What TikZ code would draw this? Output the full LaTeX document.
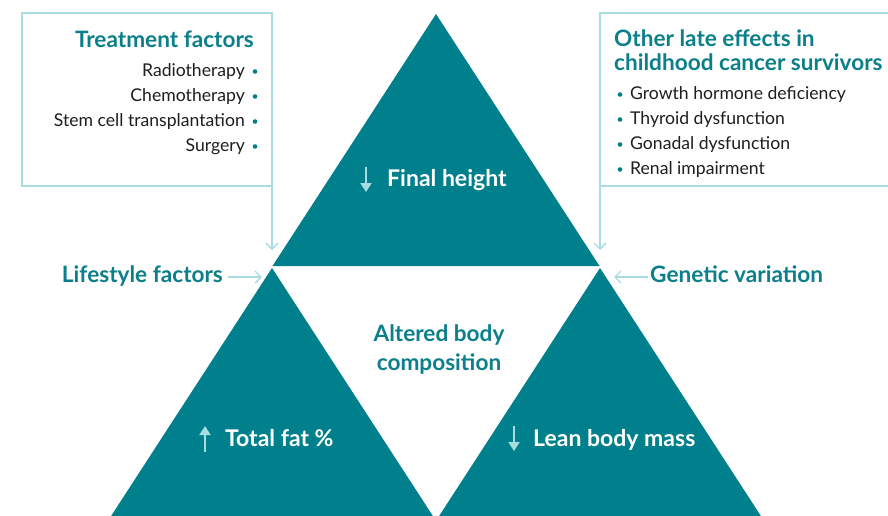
\documentclass[tikz,border=0pt]{standalone}
\usepackage{fontspec}
\setmainfont{Lato}
\usetikzlibrary{arrows.meta}
\definecolor{teal}{HTML}{00808C}
\definecolor{tealtext}{HTML}{0B7F8A}
\definecolor{paleline}{HTML}{A8DCE0}
\definecolor{bodytext}{HTML}{1E1E1E}
\tikzset{
  tri/.style={fill=teal, draw=none},
  framebox/.style={draw=paleline, line width=1.6pt},
  feed/.style={draw=paleline, line width=1.6pt, -{Straight Barb[length=6pt, width=12pt, line width=1.3pt]}},
  trend/.style={draw=paleline, line width=2pt, -{Triangle[length=9pt, width=11pt]}},
  heading/.style={text=tealtext, font=\fontsize{22.6}{26}\selectfont\bfseries, inner sep=0pt},
  item/.style={text=bodytext, font=\fontsize{17.6}{20}\selectfont, inner sep=0pt},
  inlabel/.style={text=white, font=\fontsize{23}{27}\selectfont\bfseries, inner sep=0pt},
  dot/.style={circle, fill=teal, inner sep=0pt, minimum size=4.6pt}
}
\begin{document}
\begin{tikzpicture}[x=1pt, y=-1pt]
\useasboundingbox (0,0) rectangle (888,515);
\clip (0,0) rectangle (888,515);
\fill[white] (0,0) rectangle (888,515);

% three triangles
\coordinate (apexT) at (436,14);
\coordinate (apexL) at (272,268);
\coordinate (apexR) at (600,268);
\fill[tri] (apexT) -- (599.5,266) -- (272.5,266) -- cycle;
\fill[tri] (apexL) -- (435.5,520) -- (108.5,520) -- cycle;
\fill[tri] (apexR) -- (763.5,520) -- (436.5,520) -- cycle;

% side boxes
\draw[framebox] (272,186) -- (22,186) -- (22,13) -- (272,13) -- cycle;
\draw[framebox] (895,13) -- (600,13) -- (600,186) -- (895,186);
\coordinate (boxL) at (272,186);
\coordinate (boxR) at (600,186);
\coordinate (inL) at (272,250);
\coordinate (inR) at (600,250);
\draw[feed] (boxL) -- (inL);
\draw[feed] (boxR) -- (inR);

% treatment factors
\node[heading, anchor=base east] (tf) at (254,47) {Treatment factors};
\node[item, anchor=base east] (t1) at (245,76) {Radiotherapy};
\node[item, anchor=base east] (t2) at (245,101) {Chemotherapy};
\node[item, anchor=base east] (t3) at (245,126) {Stem cell transplantation};
\node[item, anchor=base east] (t4) at (245,151) {Surgery};
\foreach \y in {71.5,96.5,121.5,146.5} \node[dot] at (255,\y) {};

% other late effects
\node[heading, anchor=base west, align=left] (ol1) at (614,46) {Other late effects in};
\node[heading, anchor=base west] (ol2) at (614,70) {childhood cancer survivors};
\node[item, anchor=base west] (o1) at (630,99) {Growth hormone deficiency};
\node[item, anchor=base west] (o2) at (630,124) {Thyroid dysfunction};
\node[item, anchor=base west] (o3) at (630,149) {Gonadal dysfunction};
\node[item, anchor=base west] (o4) at (630,174) {Renal impairment};
\foreach \y in {94.5,119.5,144.5,169.5} \node[dot] at (620,\y) {};

% lifestyle and genetic inputs
\node[heading, anchor=base east] (life) at (223,282) {Lifestyle factors};
\node[heading, anchor=base west] (gen) at (650,282) {Genetic variation};
\coordinate (lifeEnd) at (228,277);
\coordinate (lifeTip) at (262,277);
\coordinate (genEnd) at (648,277);
\coordinate (genTip) at (614,277);
\draw[feed] (lifeEnd) -- (lifeTip);
\draw[feed] (genEnd) -- (genTip);

% centre label
\node[heading, anchor=base] (alt1) at (439,341) {Altered body};
\node[heading, anchor=base] (alt2) at (439,370) {composition};

% triangle labels with trend arrows
\node[inlabel, anchor=base west] (fh) at (387,186) {Final height};
\coordinate (fhA) at (366,167);
\coordinate (fhB) at (366,192);
\draw[trend] (fhA) -- (fhB);

\node[inlabel, anchor=base west] (tfat) at (225,446) {Total fat \%};
\coordinate (tfA) at (205,452);
\coordinate (tfB) at (205,426);
\draw[trend] (tfA) -- (tfB);

\node[inlabel, anchor=base west] (lbm) at (533,446) {Lean body mass};
\coordinate (lbA) at (514,426);
\coordinate (lbB) at (514,451);
\draw[trend] (lbA) -- (lbB);
\end{tikzpicture}
\end{document}
